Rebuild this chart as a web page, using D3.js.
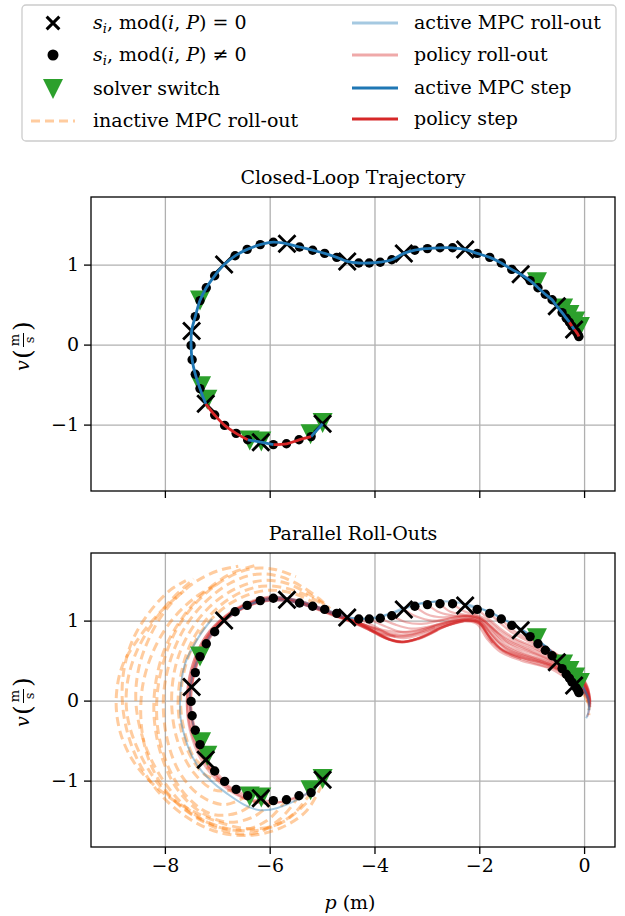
<!DOCTYPE html>
<html>
<head>
<meta charset="utf-8">
<script src="https://cdn.jsdelivr.net/npm/d3@7"></script>
<style>
  body { margin: 0; background: #fff; }
  text { font-family: "DejaVu Serif", "Liberation Serif", serif; fill: #000; }
</style>
</head>
<body>
<svg id="fig" width="625" height="916"></svg>
<script>
// closed-loop states s_i = (p, v)
const trajP = [-4.99, -5.21, -5.44, -5.68, -5.93, -6.17, -6.42, -6.64, -6.86, -7.05,
               -7.22, -7.33, -7.42, -7.48, -7.50, -7.49, -7.42, -7.33, -7.21, -7.05,
               -6.87, -6.66, -6.43, -6.18, -5.93, -5.67, -5.43, -5.18, -4.95, -4.72,
               -4.52, -4.30, -4.10, -3.89, -3.67, -3.44, -3.23, -2.99, -2.75, -2.51,
               -2.27, -2.04, -1.80, -1.58, -1.38, -1.21, -1.03, -0.88, -0.74, -0.61,
               -0.52, -0.42, -0.34, -0.28, -0.23, -0.19, -0.15, -0.12, -0.10];
const trajV = [-0.99, -1.15, -1.19, -1.24, -1.25, -1.22, -1.19, -1.11, -1.01, -0.88,
               -0.74, -0.55, -0.37, -0.19, -0.01, 0.17, 0.35, 0.55, 0.71, 0.86,
               1.00, 1.11, 1.19, 1.25, 1.28, 1.26, 1.22, 1.18, 1.14, 1.09,
               1.04, 1.02, 1.02, 1.03, 1.06, 1.14, 1.18, 1.20, 1.21, 1.21,
               1.19, 1.14, 1.09, 1.02, 0.94, 0.88, 0.80, 0.71, 0.63, 0.56,
               0.48, 0.40, 0.33, 0.28, 0.23, 0.19, 0.16, 0.13, 0.10];
const P = 5;

// which solver took step i -> i+1 ("m" = MPC, "p" = policy)
const stepSolver = "mpppmmpppp" + "mmmmmmmmmm" + "mmmmmmmmmm" + "mmmmmmmmmm" +
                   "mmmmmmmmmm" + "mmmpmppp";

// solver switch markers
const switchP = [-4.99, -5.22, -6.16, -6.38, -7.19, -7.31, -7.33, -0.90, -0.40, -0.28, -0.17, -0.08];
const switchV = [-0.98, -1.12, -1.21, -1.20, -0.69, -0.52, 0.55, 0.78, 0.45, 0.37, 0.29, 0.22];

// roll-outs, each a list of [p, v]
const policyRollouts = [
  [[-5.21,-1.15],[-5.6,-1.24],[-6.0,-1.28],[-6.5,-1.22],[-6.95,-1.03],[-7.3,-0.75],[-7.52,-0.38],[-7.58,0.0],[-7.5,0.38],[-7.3,0.72],[-6.95,1.0],[-6.5,1.2],[-6.0,1.3],[-5.5,1.26],[-5.0,1.15],[-4.6,1.04],[-4.2,0.92],[-3.8,0.78],[-3.5,0.74]],
  [[-5.44,-1.19],[-5.8,-1.27],[-6.2,-1.28],[-6.65,-1.16],[-7.05,-0.93],[-7.38,-0.6],[-7.56,-0.2],[-7.56,0.2],[-7.42,0.55],[-7.15,0.87],[-6.75,1.1],[-6.25,1.25],[-5.7,1.27],[-5.2,1.19],[-4.75,1.08],[-4.35,0.97]],
  [[-5.93,-1.25],[-6.3,-1.24],[-6.7,-1.12],[-7.05,-0.9],[-7.35,-0.58],[-7.5,-0.2],[-7.52,0.15],[-7.4,0.5],[-7.15,0.82],[-6.75,1.07],[-6.25,1.22],[-5.75,1.26],[-5.25,1.19],[-4.8,1.09],[-4.4,0.98],[-4.0,0.85]],
  [[-6.42,-1.19],[-6.8,-1.06],[-7.15,-0.84],[-7.45,-0.45],[-7.55,-0.05],[-7.5,0.3],[-7.32,0.65],[-7.0,0.95],[-6.55,1.17],[-6.0,1.29],[-5.45,1.25],[-4.95,1.14],[-4.5,1.02],[-4.1,0.9],[-3.75,0.77],[-3.5,0.73],[-3.2,0.77]],
  [[-6.86,-1.01],[-7.15,-0.78],[-7.38,-0.48],[-7.5,-0.12],[-7.47,0.25],[-7.3,0.6],[-7.02,0.9],[-6.6,1.12],[-6.1,1.25],[-5.6,1.25],[-5.1,1.15],[-4.65,1.04],[-4.25,0.94],[-3.9,0.84],[-3.6,0.8]],
  [[-7.22,-0.74],[-7.4,-0.45],[-7.52,-0.1],[-7.5,0.25],[-7.35,0.6],[-7.08,0.9],[-6.65,1.13],[-6.15,1.26],[-5.6,1.26],[-5.1,1.16],[-4.65,1.05],[-4.25,0.95],[-3.85,0.8],[-3.55,0.73],[-3.2,0.76],[-2.8,0.88]],
  [[-7.42,-0.37],[-7.5,-0.05],[-7.45,0.3],[-7.28,0.62],[-7.0,0.9],[-6.6,1.12],[-6.1,1.24],[-5.6,1.24],[-5.1,1.14],[-4.65,1.03],[-4.25,0.96],[-3.9,0.88],[-3.6,0.83],[-3.25,0.84],[-2.85,0.92]],
  [[-7.49,0.17],[-7.38,0.5],[-7.15,0.82],[-6.8,1.06],[-6.3,1.24],[-5.75,1.28],[-5.25,1.2],[-4.75,1.08],[-4.3,0.97],[-3.9,0.83],[-3.55,0.74],[-3.2,0.77],[-2.7,0.92],[-2.3,0.99]],
  [[-7.33,0.55],[-7.12,0.83],[-6.75,1.07],[-6.25,1.23],[-5.7,1.25],[-5.2,1.17],[-4.75,1.06],[-4.35,0.98],[-3.95,0.9],[-3.6,0.86],[-3.25,0.87],[-2.8,0.94],[-2.35,1.01],[-2.05,0.99]],
  [[-6.87,1.0],[-6.4,1.2],[-5.9,1.28],[-5.4,1.22],[-4.9,1.11],[-4.45,1.0],[-4.05,0.88],[-3.7,0.76],[-3.45,0.73],[-3.1,0.8],[-2.6,0.94],[-2.2,1.0],[-1.97,0.95],[-1.75,0.72]],
  [[-5.67,1.26],[-5.25,1.18],[-4.85,1.09],[-4.45,0.99],[-4.05,0.87],[-3.7,0.76],[-3.45,0.73],[-3.1,0.79],[-2.65,0.93],[-2.25,1.0],[-2.0,0.96],[-1.8,0.76],[-1.55,0.62],[-1.2,0.52]],
  [[-5.18,1.18],[-4.8,1.08],[-4.4,0.97],[-4.0,0.85],[-3.65,0.75],[-3.4,0.74],[-3.05,0.8],[-2.6,0.94],[-2.25,1.0],[-2.0,0.97],[-1.8,0.78],[-1.55,0.62],[-1.15,0.51],[-0.65,0.41]],
  [[-4.72,1.09],[-4.3,0.97],[-3.9,0.83],[-3.55,0.74],[-3.2,0.77],[-2.7,0.92],[-2.3,0.99],[-2.05,0.96],[-1.85,0.77],[-1.6,0.61],[-1.2,0.50],[-0.65,0.40],[-0.25,0.23],[0.03,0.06],[0.1,-0.1],[0.06,-0.2]],
  [[-4.72,1.09],[-4.4,1.0],[-4.0,0.9],[-3.65,0.82],[-3.35,0.81],[-2.95,0.88],[-2.5,0.98],[-2.15,1.02],[-1.92,0.95],[-1.7,0.76],[-1.45,0.63],[-1.0,0.53],[-0.5,0.42]],
  [[-4.52,1.04],[-4.2,0.95],[-3.85,0.84],[-3.55,0.8],[-3.2,0.84],[-2.75,0.95],[-2.3,1.01],[-2.02,0.98],[-1.82,0.81],[-1.58,0.64],[-1.15,0.53],[-0.65,0.43],[-0.22,0.26],[0.05,0.08],[0.11,-0.08]],
  [[-4.30,1.02],[-4.0,0.93],[-3.7,0.82],[-3.45,0.78],[-3.1,0.83],[-2.6,0.96],[-2.2,1.02],[-2.0,0.98],[-1.8,0.80],[-1.55,0.63],[-1.1,0.52],[-0.6,0.42],[-0.2,0.25],[0.05,0.08],[0.1,-0.06]],
  [[-4.10,1.02],[-3.8,0.93],[-3.5,0.86],[-3.2,0.87],[-2.8,0.95],[-2.35,1.02],[-2.05,1.0],[-1.85,0.84],[-1.6,0.66],[-1.2,0.55],[-0.7,0.45],[-0.25,0.28],[0.04,0.09],[0.11,-0.07]],
  [[-3.89,1.03],[-3.6,0.95],[-3.3,0.90],[-3.0,0.92],[-2.6,0.99],[-2.25,1.04],[-2.0,1.0],[-1.8,0.85],[-1.5,0.66],[-1.1,0.55],[-0.6,0.44],[-0.2,0.27],[0.06,0.08],[0.12,-0.08]],
  [[-3.67,1.06],[-3.4,0.98],[-3.1,0.96],[-2.75,1.0],[-2.35,1.05],[-2.05,1.02],[-1.85,0.9],[-1.6,0.72],[-1.25,0.6],[-0.8,0.5],[-0.35,0.34],[0.0,0.14],[0.11,-0.04]],
  [[-3.44,1.14],[-3.2,1.05],[-2.9,1.0],[-2.5,1.03],[-2.2,1.06],[-1.95,1.0],[-1.75,0.86],[-1.5,0.70],[-1.1,0.58],[-0.6,0.46],[-0.2,0.30],[0.05,0.1],[0.12,-0.05]],
  [[-3.23,1.18],[-3.0,1.08],[-2.7,1.04],[-2.35,1.06],[-2.05,1.04],[-1.82,0.93],[-1.6,0.78],[-1.3,0.66],[-0.85,0.55],[-0.4,0.38],[-0.05,0.16],[0.11,-0.03]],
  [[-2.99,1.20],[-2.75,1.1],[-2.45,1.06],[-2.15,1.06],[-1.9,1.0],[-1.7,0.87],[-1.45,0.73],[-1.05,0.62],[-0.6,0.49],[-0.2,0.32],[0.06,0.12],[0.12,-0.04]],
  [[-2.75,1.21],[-2.55,1.11],[-2.25,1.07],[-1.98,1.03],[-1.75,0.91],[-1.5,0.77],[-1.15,0.66],[-0.7,0.53],[-0.3,0.36],[0.0,0.16],[0.11,-0.01]],
  [[-2.51,1.21],[-2.3,1.12],[-2.05,1.06],[-1.85,0.97],[-1.6,0.83],[-1.3,0.72],[-0.9,0.62],[-0.5,0.49],[-0.15,0.32],[0.07,0.12],[0.12,-0.02]],
  [[-2.27,1.19],[-2.1,1.09],[-1.85,1.01],[-1.6,0.87],[-1.3,0.75],[-0.9,0.64],[-0.5,0.5],[-0.15,0.32],[0.06,0.13],[0.11,-0.01]],
  [[-2.04,1.14],[-1.85,1.04],[-1.6,0.90],[-1.3,0.77],[-0.9,0.66],[-0.5,0.52],[-0.15,0.34],[0.07,0.14],[0.12,0.0]],
  [[-1.80,1.09],[-1.6,0.97],[-1.35,0.84],[-1.0,0.72],[-0.6,0.58],[-0.25,0.4],[0.02,0.19],[0.1,0.02]],
  [[-1.58,1.02],[-1.4,0.90],[-1.1,0.78],[-0.75,0.66],[-0.4,0.51],[-0.1,0.33],[0.08,0.14],[0.11,0.0]],
  [[-1.21,0.88],[-1.0,0.77],[-0.7,0.65],[-0.4,0.52],[-0.1,0.35],[0.07,0.17],[0.1,0.02]],
  [[-1.03,0.80],[-0.8,0.7],[-0.5,0.57],[-0.2,0.4],[0.03,0.21],[0.09,0.05]],
  [[-0.88,0.71],[-0.6,0.6],[-0.35,0.48],[-0.1,0.33],[0.05,0.17],[0.08,0.04]],
  [[-0.74,0.63],[-0.5,0.53],[-0.25,0.4],[-0.02,0.23],[0.07,0.07]],
  [[-0.52,0.48],[-0.3,0.38],[-0.1,0.26],[0.04,0.14],[0.06,0.03]]
];

const mpcRollouts = [
  [[-4.99,-0.99],[-5.48,-1.24],[-6.18,-1.37],[-6.82,-1.16],[-7.39,-0.80],[-7.68,-0.3],[-7.71,0.0],[-7.62,0.45],[-7.35,0.8],[-7.1,1.02]],
  [[-7.22,-0.74],[-7.42,-0.4],[-7.52,0.0],[-7.48,0.3],[-7.3,0.62],[-7.0,0.92],[-6.6,1.13],[-6.1,1.25],[-5.6,1.24],[-5.1,1.15],[-4.6,1.04]],
  [[-6.87,1.0],[-6.4,1.2],[-5.9,1.29],[-5.4,1.24],[-4.9,1.13],[-4.4,1.03],[-4.0,1.03],[-3.6,1.1],[-3.2,1.2],[-2.8,1.24]],
  [[-4.52,1.04],[-4.1,1.03],[-3.7,1.09],[-3.4,1.17],[-3.0,1.23],[-2.6,1.24],[-2.2,1.2],[-1.8,1.11],[-1.4,0.97],[-1.0,0.81],[-0.6,0.6],[-0.25,0.3],[0.0,0.08]],
  [[-2.27,1.19],[-1.9,1.13],[-1.5,1.0],[-1.1,0.85],[-0.7,0.66],[-0.35,0.42],[-0.05,0.2],[0.08,0.0],[0.08,-0.15],[0.04,-0.22]],
  [[-1.21,0.88],[-0.9,0.75],[-0.6,0.6],[-0.3,0.4],[-0.05,0.2],[0.09,0.02],[0.1,-0.12]]
];

const inactiveRollouts = [
  [[-5.0,-1.05],[-5.3,-1.38],[-5.75,-1.58],[-6.3,-1.68],[-6.95,-1.65],[-7.6,-1.45],[-8.15,-1.12],[-8.55,-0.7],[-8.78,-0.2],[-8.8,0.3],[-8.62,0.75],[-8.3,1.1],[-7.9,1.38],[-7.6,1.5]],
  [[-5.21,-1.15],[-5.55,-1.42],[-5.95,-1.57],[-6.45,-1.6],[-7.05,-1.5],[-7.7,-1.3],[-8.2,-1.06],[-8.6,-0.76],[-8.85,-0.4],[-8.93,0.0],[-8.82,0.42],[-8.5,0.78],[-8.1,1.1],[-7.64,1.37]],
  [[-5.44,-1.19],[-5.8,-1.48],[-6.3,-1.66],[-6.9,-1.62],[-7.5,-1.42],[-8.05,-1.1],[-8.45,-0.7],[-8.7,-0.25],[-8.73,0.15],[-8.58,0.55],[-8.25,0.95],[-7.85,1.28],[-7.45,1.52]],
  [[-5.3,-1.28],[-5.7,-1.5],[-6.2,-1.62],[-6.8,-1.6],[-7.4,-1.45],[-7.95,-1.15],[-8.3,-0.75],[-8.45,-0.3],[-8.42,0.2],[-8.2,0.65],[-7.85,1.02],[-7.4,1.3],[-6.95,1.47]],
  [[-5.68,-1.24],[-6.05,-1.5],[-6.55,-1.62],[-7.1,-1.55],[-7.6,-1.33],[-8.05,-0.98],[-8.38,-0.55],[-8.55,-0.05],[-8.5,0.4],[-8.25,0.85],[-7.9,1.2],[-7.45,1.47],[-7.0,1.62],[-6.6,1.68]],
  [[-5.93,-1.25],[-6.3,-1.45],[-6.8,-1.52],[-7.3,-1.4],[-7.75,-1.12],[-8.05,-0.72],[-8.2,-0.25],[-8.18,0.2],[-8.0,0.65],[-7.65,1.05],[-7.2,1.38],[-6.7,1.6],[-6.2,1.70]],
  [[-6.17,-1.22],[-6.6,-1.4],[-7.1,-1.42],[-7.55,-1.22],[-7.9,-0.88],[-8.12,-0.42],[-8.15,0.05],[-8.02,0.5],[-7.75,0.92],[-7.35,1.26],[-6.85,1.52],[-6.35,1.65],[-5.9,1.64],[-5.5,1.55]],
  [[-6.42,-1.19],[-6.85,-1.3],[-7.3,-1.2],[-7.7,-0.92],[-7.95,-0.5],[-8.03,0.0],[-7.92,0.45],[-7.65,0.88],[-7.25,1.22],[-6.75,1.47],[-6.25,1.58],[-5.8,1.55],[-5.4,1.43],[-5.05,1.27],[-4.85,1.15]],
  [[-6.64,-1.11],[-7.05,-1.12],[-7.45,-0.9],[-7.75,-0.52],[-7.87,-0.05],[-7.8,0.42],[-7.55,0.83],[-7.15,1.17],[-6.65,1.4],[-6.15,1.5],[-5.7,1.47],[-5.3,1.35],[-4.95,1.2]],
  [[-6.86,-1.01],[-7.25,-0.92],[-7.58,-0.6],[-7.74,-0.15],[-7.7,0.3],[-7.5,0.72],[-7.12,1.08],[-6.65,1.32],[-6.15,1.43],[-5.65,1.4],[-5.25,1.3],[-4.98,1.2]],
  [[-7.05,-0.88],[-7.4,-0.75],[-7.62,-0.4],[-7.7,0.0],[-7.6,0.45],[-7.35,0.82],[-6.95,1.12],[-6.5,1.3],[-6.0,1.38],[-5.5,1.33],[-5.15,1.22]],
  [[-0.28,0.28],[-0.1,0.16],[0.04,0.04],[0.1,-0.08],[0.09,-0.18]],
  [[-0.19,0.19],[-0.04,0.1],[0.06,0.0],[0.09,-0.12]]
];

const xTicks = [-8, -6, -4, -2, 0];
const yTicks = [-1, 0, 1];
const xDomain = [-9.41, 0.59];
const yDomain = [-1.83, 1.845];

const C = { blue: "#1f77b4", red: "#d62728", orange: "#ff7f0e", green: "#2ca02c", grid: "#b0b0b0" };
const FS = 19;

const svg = d3.select("#fig");
const axL = 91, axR = 615, axH = 294;
const panels = [
  { top: 197, title: "Closed-Loop Trajectory", xLabels: false },
  { top: 553, title: "Parallel Roll-Outs", xLabels: true }
];

const x = d3.scaleLinear().domain(xDomain).range([axL, axR]);
const minus = d => d < 0 ? "\u2212" + Math.abs(d) : String(d);

const xPath = "M-8.5,-8.5L8.5,8.5M-8.5,8.5L8.5,-8.5";
const triPath = "M-10,-10L10,-10L0,10Z";

panels.forEach((pan, k) => {
  const y = d3.scaleLinear().domain(yDomain).range([pan.top + axH, pan.top]);
  pan.y = y;
  const g = svg.append("g");

  // grid
  g.append("g")
    .attr("transform", `translate(0,${pan.top + axH})`)
    .call(d3.axisBottom(x).tickValues(xTicks).tickSize(-axH).tickFormat(""))
    .call(a => a.select(".domain").remove())
    .selectAll("line").attr("stroke", C.grid).attr("stroke-width", 1.3);
  g.append("g")
    .attr("transform", `translate(${axL},0)`)
    .call(d3.axisLeft(y).tickValues(yTicks).tickSize(-(axR - axL)).tickFormat(""))
    .call(a => a.select(".domain").remove())
    .selectAll("line").attr("stroke", C.grid).attr("stroke-width", 1.3);

  const clipId = "clip" + k;
  svg.append("clipPath").attr("id", clipId)
    .append("rect").attr("x", axL).attr("y", pan.top).attr("width", axR - axL).attr("height", axH);
  pan.plot = g.append("g").attr("clip-path", `url(#${clipId})`);
  pan.g = g;

  // axes
  const ya = g.append("g").attr("transform", `translate(${axL},0)`)
    .call(d3.axisLeft(y).tickValues(yTicks).tickSize(7).tickPadding(5).tickFormat(minus));
  ya.select(".domain").remove();
  ya.selectAll("line").attr("stroke", "#000").attr("stroke-width", 1.3);
  ya.selectAll("text").attr("font-size", FS).attr("font-family", null);

  const xa = g.append("g").attr("transform", `translate(0,${pan.top + axH})`)
    .call(d3.axisBottom(x).tickValues(xTicks).tickSize(7).tickPadding(5)
      .tickFormat(pan.xLabels ? minus : ""));
  xa.select(".domain").remove();
  xa.selectAll("line").attr("stroke", "#000").attr("stroke-width", 1.3);
  xa.selectAll("text").attr("font-size", FS).attr("font-family", null);

  // title
  g.append("text").attr("x", (axL + axR) / 2).attr("y", pan.top - 13)
    .attr("text-anchor", "middle").attr("font-size", FS).text(pan.title);

  // y label: v (m / s)
  const yl = g.append("g").attr("transform", `translate(22,${pan.top + axH / 2}) rotate(-90)`);
  yl.append("text").attr("x", -27).attr("y", 7).attr("font-size", FS).attr("font-style", "italic").text("v");
  yl.append("text").attr("x", -15).attr("y", 9).attr("font-size", 25).text("(");
  yl.append("text").attr("x", 4).attr("y", -3).attr("font-size", 13).attr("text-anchor", "middle").text("m");
  yl.append("line").attr("x1", -3).attr("x2", 11).attr("y1", 1.5).attr("y2", 1.5).attr("stroke", "#000").attr("stroke-width", 1);
  yl.append("text").attr("x", 4).attr("y", 12).attr("font-size", 13).attr("text-anchor", "middle").text("s");
  yl.append("text").attr("x", 13).attr("y", 9).attr("font-size", 25).text(")");
});

// x label
const xl = svg.append("text").attr("x", 350).attr("y", 909).attr("text-anchor", "middle").attr("font-size", FS);
xl.append("tspan").attr("font-style", "italic").text("p");
xl.append("tspan").text(" (m)");

const states = trajP.map((p, i) => ({ p, v: trajV[i], i }));
const switches = switchP.map((p, i) => ({ p, v: switchV[i] }));

function drawMarkers(plot, y) {
  plot.append("g").selectAll("path").data(switches).join("path")
    .attr("d", triPath).attr("fill", C.green)
    .attr("transform", d => `translate(${x(d.p)},${y(d.v)})`);
  plot.append("g").selectAll("circle").data(states.filter(d => d.i % P !== 0)).join("circle")
    .attr("cx", d => x(d.p)).attr("cy", d => y(d.v)).attr("r", 4.7).attr("fill", "#000");
  plot.append("g").selectAll("path").data(states.filter(d => d.i % P === 0)).join("path")
    .attr("d", xPath).attr("stroke", "#000").attr("stroke-width", 2.8).attr("fill", "none")
    .attr("transform", d => `translate(${x(d.p)},${y(d.v)})`);
}

// ---- top panel: closed loop trajectory, one path per run of equal solver
{
  const { plot, y } = panels[0];
  drawMarkers(plot, y);
  const runs = [];
  for (let i = 0; i < stepSolver.length; i++) {
    const s = stepSolver[i];
    if (runs.length && runs[runs.length - 1].s === s) runs[runs.length - 1].end = i + 1;
    else runs.push({ s, start: i, end: i + 1 });
  }
  const line = d3.line().x(d => x(d.p)).y(d => y(d.v)).curve(d3.curveCatmullRom.alpha(0.5));
  plot.append("g").selectAll("path").data(runs).join("path")
    .attr("d", r => line(states.slice(r.start, r.end + 1)))
    .attr("fill", "none")
    .attr("stroke", r => r.s === "m" ? C.blue : C.red)
    .attr("stroke-width", 2.8);
}

// ---- bottom panel: roll-outs
{
  const { plot, y } = panels[1];
  const line = d3.line().x(d => x(d[0])).y(d => y(d[1])).curve(d3.curveCatmullRom.alpha(0.5));
  plot.append("g").selectAll("path").data(inactiveRollouts).join("path")
    .attr("d", line).attr("fill", "none").attr("stroke", C.orange).attr("stroke-opacity", 0.4)
    .attr("stroke-width", 3).attr("stroke-dasharray", "9,5");
  plot.append("g").selectAll("path").data(policyRollouts).join("path")
    .attr("d", line).attr("fill", "none").attr("stroke", C.red).attr("stroke-opacity", 0.33)
    .attr("stroke-width", 2.2);
  plot.append("g").selectAll("path").data(mpcRollouts).join("path")
    .attr("d", line).attr("fill", "none").attr("stroke", C.blue).attr("stroke-opacity", 0.4)
    .attr("stroke-width", 2);
  drawMarkers(plot, y);
}

// frames on top
panels.forEach(pan => {
  pan.g.append("rect").attr("x", axL).attr("y", pan.top).attr("width", axR - axL).attr("height", axH)
    .attr("fill", "none").attr("stroke", "#000").attr("stroke-width", 1.3);
});

// ---- legend
{
  const lg = svg.append("g");
  lg.append("rect").attr("x", 22).attr("y", 5).attr("width", 594).attr("height", 136).attr("rx", 4)
    .attr("fill", "#fff").attr("stroke", "#cccccc").attr("stroke-width", 1.3);
  const lx = 53, tx = 93, rx1 = 352, rx2 = 398, rtx = 414;
  const rowsL = [23, 55, 89, 121], rowsR = [23, 55, 88, 119];

  lg.append("path").attr("d", xPath).attr("transform", `translate(${lx},${rowsL[0]}) scale(0.75)`)
    .attr("stroke", "#000").attr("stroke-width", 4).attr("fill", "none");
  lg.append("circle").attr("cx", lx).attr("cy", rowsL[1]).attr("r", 5.5).attr("fill", "#000");
  lg.append("path").attr("d", triPath).attr("transform", `translate(${lx},${rowsL[2]})`).attr("fill", C.green);
  lg.append("line").attr("x1", 31).attr("x2", 75).attr("y1", rowsL[3]).attr("y2", rowsL[3])
    .attr("stroke", C.orange).attr("stroke-opacity", 0.4).attr("stroke-width", 3).attr("stroke-dasharray", "9,5");

  const mathLabel = (yy, rel) => {
    const t = lg.append("text").attr("x", tx).attr("y", yy + 6).attr("font-size", FS);
    t.append("tspan").attr("font-style", "italic").text("s");
    t.append("tspan").attr("font-style", "italic").attr("font-size", 13).attr("dy", 4).text("i");
    t.append("tspan").attr("dy", -4).text(", mod(");
    t.append("tspan").attr("font-style", "italic").text("i");
    t.append("tspan").text(", ");
    t.append("tspan").attr("font-style", "italic").text("P");
    t.append("tspan").text(") " + rel + " 0");
  };
  mathLabel(rowsL[0], "=");
  mathLabel(rowsL[1], "\u2260");
  lg.append("text").attr("x", tx).attr("y", rowsL[2] + 6).attr("font-size", FS).text("solver switch");
  lg.append("text").attr("x", tx).attr("y", rowsL[3] + 6).attr("font-size", FS).text("inactive MPC roll-out");

  const rightItems = [
    { label: "active MPC roll-out", color: C.blue, op: 0.4 },
    { label: "policy roll-out", color: C.red, op: 0.4 },
    { label: "active MPC step", color: C.blue, op: 1 },
    { label: "policy step", color: C.red, op: 1 }
  ];
  rightItems.forEach((it, j) => {
    lg.append("line").attr("x1", rx1).attr("x2", rx2).attr("y1", rowsR[j]).attr("y2", rowsR[j])
      .attr("stroke", it.color).attr("stroke-opacity", it.op).attr("stroke-width", 3);
    lg.append("text").attr("x", rtx).attr("y", rowsR[j] + 6).attr("font-size", FS).text(it.label);
  });
}
</script>
</body>
</html>
